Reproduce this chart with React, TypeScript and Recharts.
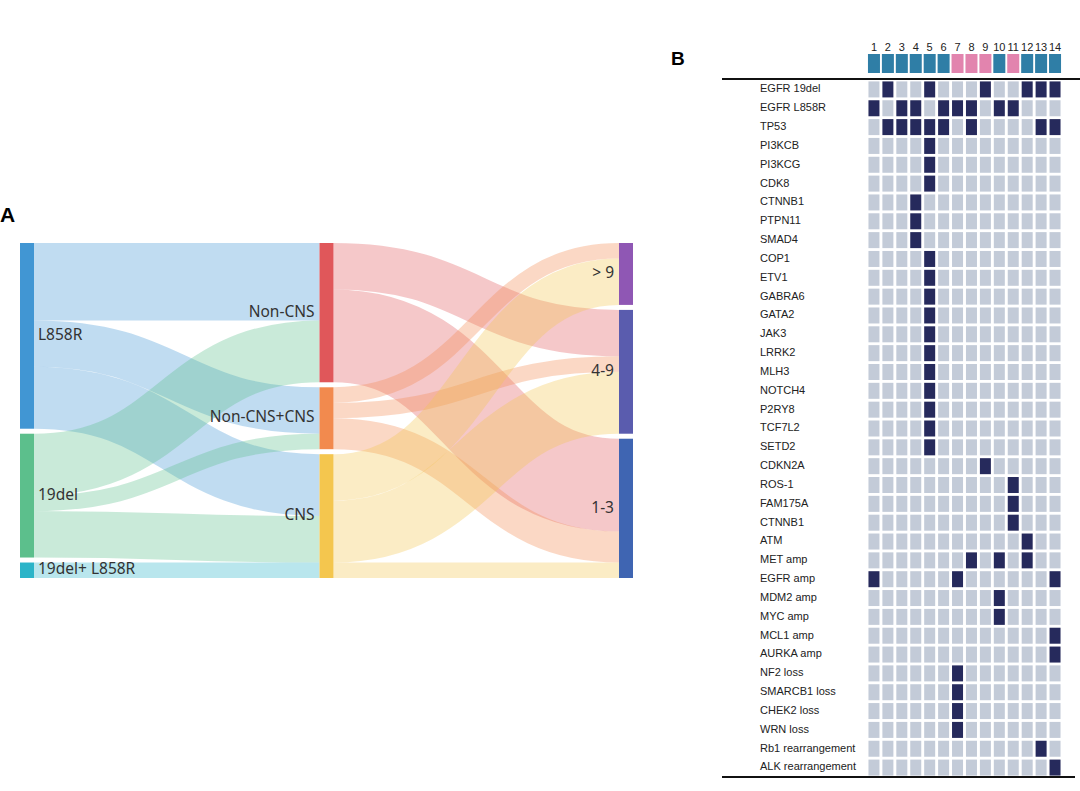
import React from 'react';
import { Sankey, ScatterChart, Scatter, XAxis, YAxis } from 'recharts';

// ---- panel A: sankey ----
const nodeNames = ['L858R', '19del', '19del+ L858R', 'Non-CNS', 'Non-CNS+CNS', 'CNS', '> 9', '4-9', '1-3'];
const nodeColors = ['#4196d3', '#5cbf8c', '#2bb4c8', '#e0575a', '#f28a4e', '#f4c64e', '#8f57b4', '#5a5cae', '#3f65b2'];
const linkSources = [0, 0, 0, 1, 1, 1, 2, 3, 3, 4, 4, 4, 5, 5, 5];
const linkTargets = [3, 4, 5, 3, 4, 5, 5, 7, 8, 6, 7, 8, 6, 7, 8];
const linkValues = [5, 3, 4, 4, 1, 3, 1, 3, 6, 1, 1, 2, 3, 4, 1];

// ---- panel B: mutation matrix ----
const samples = [1, 2, 3, 4, 5, 6, 7, 8, 9, 10, 11, 12, 13, 14];
const sampleGroups = ['b', 'b', 'b', 'b', 'b', 'b', 'p', 'p', 'p', 'b', 'p', 'b', 'b', 'b'];
const genes = [
  'EGFR 19del', 'EGFR L858R', 'TP53', 'PI3KCB', 'PI3KCG', 'CDK8', 'CTNNB1', 'PTPN11', 'SMAD4',
  'COP1', 'ETV1', 'GABRA6', 'GATA2', 'JAK3', 'LRRK2', 'MLH3', 'NOTCH4', 'P2RY8', 'TCF7L2', 'SETD2',
  'CDKN2A', 'ROS-1', 'FAM175A', 'CTNNB1', 'ATM', 'MET amp', 'EGFR amp', 'MDM2 amp', 'MYC amp',
  'MCL1 amp', 'AURKA amp', 'NF2 loss', 'SMARCB1 loss', 'CHEK2 loss', 'WRN loss',
  'Rb1 rearrangement', 'ALK rearrangement',
];
const altered = [
  [2, 5, 9, 12, 13, 14], [1, 3, 4, 6, 7, 8, 10, 11], [2, 3, 4, 5, 6, 8, 13, 14],
  [5], [5], [5], [4], [4], [4],
  [5], [5], [5], [5], [5], [5], [5], [5], [5], [5], [5],
  [9], [11], [11], [11], [12], [8, 10, 12], [1, 7, 14], [10], [10],
  [14], [14], [7], [7], [7], [7], [13], [14],
];

const groupColor: Record<string, string> = { b: '#2f7ea6', p: '#e284ae' };
const DARK = '#262a5c';
const LIGHT = '#c3cbd8';

const sankeyData = {
  nodes: nodeNames.map((name) => ({ name })),
  links: linkSources.map((s, i) => ({ source: s, target: linkTargets[i], value: linkValues[i] })),
};

const cells = genes.flatMap((g, r) =>
  samples.map((s) => ({ x: s, y: r, hit: altered[r].includes(s) }))
);

const SankeyNode = (props: any) => {
  const { x, y, width, height, index, payload } = props;
  const depth = payload.depth ?? (index < 3 ? 0 : index < 6 ? 1 : 2);
  const left = depth === 0;
  return (
    <g>
      <rect x={x} y={y} width={width} height={height} fill={nodeColors[index]} />
      <text
        x={left ? x + width + 4 : x - 5}
        y={y + height / 2}
        textAnchor={left ? 'start' : 'end'}
        dominantBaseline="middle"
        fontSize={15.5}
        fontFamily="'Noto Sans', sans-serif"
        fill="#333"
      >
        {payload.name}
      </text>
    </g>
  );
};

const SankeyLink = (props: any) => {
  const { sourceX, targetX, sourceY, targetY, sourceControlX, targetControlX, linkWidth, payload } = props;
  const src = payload.source;
  const idx = typeof src === 'object' ? nodeNames.indexOf(src.name) : src;
  return (
    <path
      d={`M${sourceX},${sourceY} C${sourceControlX},${sourceY} ${targetControlX},${targetY} ${targetX},${targetY}`}
      fill="none"
      stroke={nodeColors[idx]}
      strokeOpacity={0.33}
      strokeWidth={linkWidth}
    />
  );
};

const HeaderTick = (props: any) => {
  const { x, y, payload } = props;
  const i = samples.indexOf(payload.value);
  return (
    <g>
      <text x={x} y={y - 29} textAnchor="middle" fontSize={11} fontFamily="'Liberation Sans', Arial, sans-serif" fill="#222">
        {payload.value}
      </text>
      <rect x={x - 6} y={y - 26} width={12} height={19} fill={groupColor[sampleGroups[i]]} />
    </g>
  );
};

const GeneTick = (props: any) => {
  const { x, y, payload } = props;
  return (
    <text x={x - 107} y={y} dominantBaseline="middle" fontSize={11} fontFamily="'Liberation Sans', Arial, sans-serif" fill="#222">
      {genes[payload.value]}
    </text>
  );
};

const CellShape = (props: any) => {
  const { cx, cy, payload } = props;
  return <rect x={cx - 5.5} y={cy - 8} width={11} height={16} fill={payload.hit ? DARK : LIGHT} />;
};

export default function App() {
  return (
    <div style={{ position: 'absolute', left: 0, top: 0, width: 1080, height: 791, background: '#fff', overflow: 'hidden' }}>
      <div style={{ position: 'absolute', left: 0, top: 203, fontFamily: "'Liberation Sans', Arial, sans-serif", fontWeight: 'bold', fontSize: 21 }}>A</div>
      <div style={{ position: 'absolute', left: 671, top: 48, fontFamily: "'Liberation Sans', Arial, sans-serif", fontWeight: 'bold', fontSize: 19 }}>B</div>

      <div style={{ position: 'absolute', left: 0, top: 0 }}>
        <Sankey
          width={660}
          height={600}
          data={sankeyData}
          margin={{ top: 243, bottom: 22, left: 20, right: 27 }}
          nodeWidth={14}
          nodePadding={5}
          iterations={0}
          node={<SankeyNode />}
          link={<SankeyLink />}
        />
      </div>

      <div style={{ position: 'absolute', left: 722, top: 78, width: 358, height: 2, background: '#111' }} />
      <div style={{ position: 'absolute', left: 722, top: 776, width: 353, height: 2, background: '#111' }} />

      <div style={{ position: 'absolute', left: 720, top: 30 }}>
        <ScatterChart width={360} height={760} margin={{ top: 10, right: 18, bottom: 13, left: 0 }}>
          <XAxis
            type="number"
            dataKey="x"
            orientation="top"
            domain={[0.5, 14.5]}
            ticks={samples}
            interval={0}
            height={40}
            axisLine={false}
            tickLine={false}
            tickSize={0}
            tickMargin={0}
            tick={<HeaderTick />}
          />
          <YAxis
            type="number"
            dataKey="y"
            domain={[-0.5, 36.5]}
            reversed
            ticks={genes.map((_, i) => i)}
            interval={0}
            width={147}
            axisLine={false}
            tickLine={false}
            tickSize={0}
            tickMargin={0}
            tick={<GeneTick />}
          />
          <Scatter data={cells} shape={<CellShape />} isAnimationActive={false} />
        </ScatterChart>
      </div>
    </div>
  );
}
